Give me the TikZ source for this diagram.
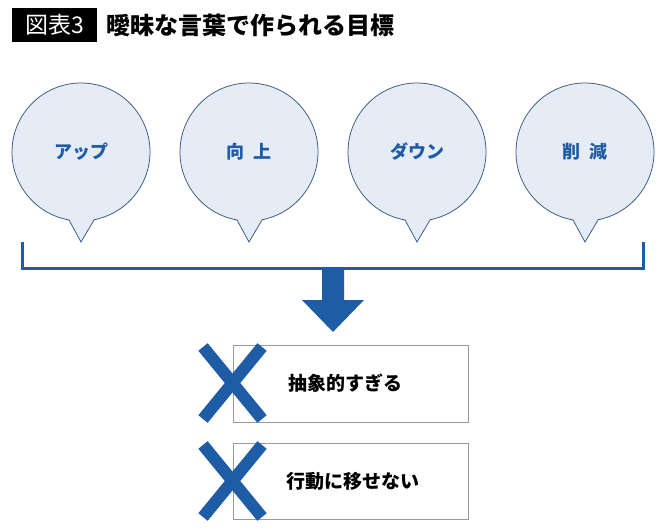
\documentclass[tikz,border=0pt]{standalone}
\usepackage{fontspec}
\setmainfont{Noto Sans CJK JP}
\definecolor{bl}{HTML}{1F5CA6}
\definecolor{bfill}{HTML}{E6ECF6}
\definecolor{bedge}{HTML}{3F5F85}
\begin{document}
\begin{tikzpicture}[x=1pt,y=-1pt,
  bub/.style={fill=bfill,draw=bedge,line width=0.8pt},
  btxt/.style={text=bl,font=\bfseries\fontsize{18}{20}\selectfont},
  box/.style={draw=gray!80,line width=0.8pt,fill=white},
  cross/.style={draw=bl,line width=12pt},
  ctext/.style={font=\bfseries\fontsize{19}{22}\selectfont}]
\useasboundingbox (0,0) rectangle (670,530);
\fill[white] (0,0) rectangle (670,530);
\node[fill=black,text=white,font=\fontsize{23}{26}\selectfont,inner sep=0pt,minimum width=85pt,minimum height=34pt] (hdr) at (54.5,25) {図表3};
\node[anchor=west,font=\bfseries\fontsize{24}{27}\selectfont,inner sep=0pt] (title) at (106,25) {曖昧な言葉で作られる目標};
\foreach \x/\t/\n in {81/アップ/b1,249/向\hspace{0.5em}上/b2,417/ダウン/b3,585/削\hspace{0.5em}減/b4}{
  \path[bub] (\x,242) -- ([shift={(\x,152)}]100:69) arc[start angle=100,end angle=439,radius=69] -- cycle;
  \node[btxt] (\n) at (\x,152) {\t};
}
\draw[bl,line width=3pt] (22,242) -- (22,268) -- (643,268) -- (643,242);
\coordinate (ar) at (333,268);
\fill[bl] (322,268) -- (344,268) -- (344,300) -- (364,300) -- (333,332) -- (302,300) -- (322,300) -- cycle;
\node[box,minimum width=235pt,minimum height=77pt] (r1) at (350.5,383.5) {};
\node[box,minimum width=235pt,minimum height=76pt] (r2) at (350.5,481) {};
\node[ctext] (t1) at (345,383) {抽象的すぎる};
\node[ctext] (t2) at (353,481) {行動に移せない};
\foreach \y in {383,481}{
  \draw[cross] (203,\y-36) -- (262,\y+36);
  \draw[cross] (262,\y-36) -- (203,\y+36);
}
\end{tikzpicture}
\end{document}
